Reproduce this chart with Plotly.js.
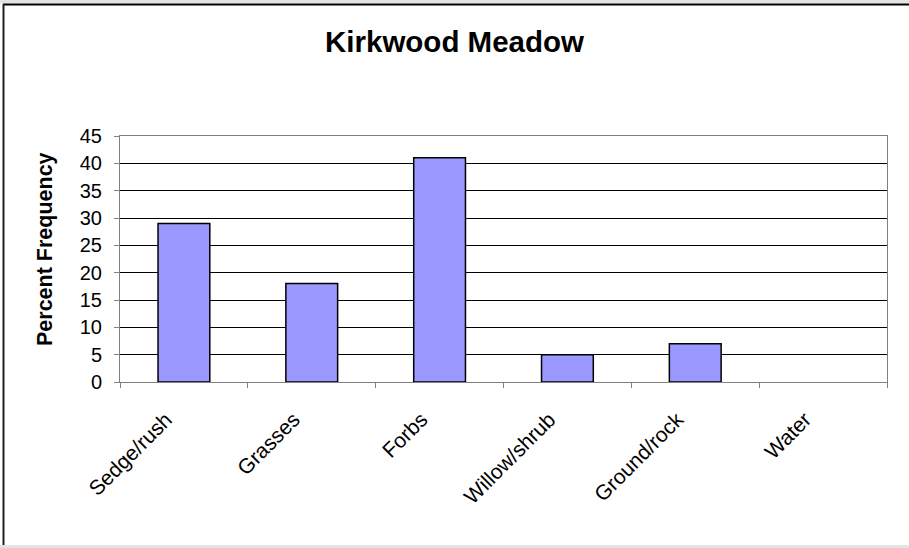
<!DOCTYPE html>
<html>
<head>
<meta charset="utf-8">
<script src="https://cdn.plot.ly/plotly-3.0.1.min.js"></script>
<style>
  html, body { margin: 0; padding: 0; background: #ffffff; }
  #chart { width: 909px; height: 548px; }
</style>
</head>
<body>
<div id="chart"></div>
<script>
// Vegetation cover classes and their percent frequency
const categories = ["Sedge/rush", "Grasses", "Forbs", "Willow/shrub", "Ground/rock", "Water"];
const percentFrequency = [29, 18, 41, 5, 7, 0];
const yTicks = [0, 5, 10, 15, 20, 25, 30, 35, 40, 45];

const FONT = "Liberation Sans, Arial, sans-serif";

// Plot area in pixels: left 120, right 887, top 136, bottom 382
const W = 909, H = 548, L = 120, R = 887, T = 136, B = 382;
const px = x => (x - L) / (R - L);
const py = y => (B - y) / (B - T);

const trace = {
  type: "bar",
  x: categories,
  y: percentFrequency,
  marker: {
    color: "#9999FF",
    // empty classes get no outline so nothing sits on the axis
    line: { color: "#000000", width: percentFrequency.map(v => (v > 0 ? 1.5 : 0)) }
  },
  hoverinfo: "x+y"
};

const layout = {
  width: W,
  height: H,
  margin: { l: L, r: W - R, t: T, b: H - B, pad: 0 },
  paper_bgcolor: "#ffffff",
  plot_bgcolor: "#ffffff",
  font: { family: FONT, color: "#000000", size: 20 },
  showlegend: false,
  bargap: 0.595,
  title: {
    text: "<b>Kirkwood Meadow</b>",
    font: { family: FONT, size: 29.5, color: "#000000" },
    xref: "container", x: 0.5, xanchor: "center",
    yref: "container", y: 1 - 42 / H, yanchor: "middle"
  },
  xaxis: {
    type: "category",
    tickson: "boundaries",
    ticks: "outside",
    ticklen: 5,
    tickwidth: 1,
    tickcolor: "#808080",
    tickangle: -45,
    ticklabelstandoff: 16,
    ticklabelshift: -18,
    tickfont: { family: FONT, size: 21, color: "#000000" },
    showgrid: false,
    showline: true,
    linecolor: "#808080",
    linewidth: 1,
    mirror: true,
    zeroline: false
  },
  yaxis: {
    range: [0, 45],
    tickvals: yTicks,
    ticktext: yTicks.map(String),
    ticks: "outside",
    ticklen: 5,
    tickwidth: 1,
    tickcolor: "#808080",
    ticklabelstandoff: 8,
    tickfont: { family: FONT, size: 20, color: "#000000" },
    showgrid: true,
    gridcolor: "#000000",
    gridwidth: 1,
    showline: true,
    linecolor: "#808080",
    linewidth: 1,
    mirror: true,
    zeroline: false
  },
  annotations: [{
    text: "<b>Percent Frequency</b>",
    textangle: -90,
    xref: "paper", yref: "paper",
    x: px(44.5), y: py(249.5),
    xanchor: "center", yanchor: "middle",
    showarrow: false,
    font: { family: FONT, size: 21.5, color: "#000000" }
  }],
  shapes: [
    // light strips along the top and bottom edges
    { type: "rect", xref: "paper", yref: "paper", x0: px(0), x1: px(W), y0: py(0), y1: py(3.5),
      fillcolor: "#e4e4e4", line: { width: 0 } },
    { type: "rect", xref: "paper", yref: "paper", x0: px(0), x1: px(W), y0: py(545), y1: py(H),
      fillcolor: "#e4e4e4", line: { width: 0 } },
    // chart frame: top and left edges
    { type: "line", xref: "paper", yref: "paper", x0: px(3), x1: px(W), y0: py(4.5), y1: py(4.5),
      line: { color: "#000000", width: 2 } },
    { type: "line", xref: "paper", yref: "paper", x0: px(3.5), x1: px(3.5), y0: py(4), y1: py(545),
      line: { color: "#222222", width: 2 } }
  ]
};

Plotly.newPlot("chart", [trace], layout, { displayModeBar: false, staticPlot: true });
</script>
</body>
</html>
